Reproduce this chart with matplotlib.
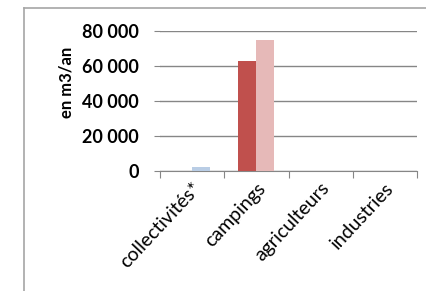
import matplotlib
matplotlib.use("Agg")
import matplotlib.pyplot as plt
from matplotlib.lines import Line2D
import numpy as np

# categories and values (m3 per year)
categories = ["collectivités*", "campings", "agriculteurs", "industries"]
serie_1 = [0, 63000, 0, 0]
serie_2 = [2500, 75000, 0, 0]
colors_1 = ["#C0504D", "#C0504D", "#C0504D", "#C0504D"]
colors_2 = ["#B9CDE5", "#E6B9B8", "#E6B9B8", "#E6B9B8"]
yticks = [0, 20000, 40000, 60000, 80000]

W, H = 427, 291
fig = plt.figure(figsize=(W / 100, H / 100), dpi=100)
fig.patch.set_facecolor("white")

# outer chart frame (only left and top visible in the crop)
fig.add_artist(Line2D([24 / W, 24 / W], [0, 1 - 8 / H], color="#A6A6A6", lw=1.2))
fig.add_artist(Line2D([24 / W, 1], [1 - 8 / H, 1 - 8 / H], color="#A6A6A6", lw=1.2))

ax = fig.add_axes([160 / W, 1 - 171 / H, (417 - 160) / W, (171 - 31) / H])

x = np.arange(len(categories))
width = 0.28
ax.bar(x - width / 2, serie_1, width, color=colors_1, zorder=3)
ax.bar(x + width / 2, serie_2, width, color=colors_2, zorder=3)

ax.set_xlim(-0.5, len(categories) - 0.5)
ax.set_ylim(0, 80000)
ax.set_yticks(yticks)
ax.set_yticklabels([f"{v:,}".replace(",", " ") for v in yticks],
                   fontfamily="Lato", fontweight="bold", fontsize=13)
ax.yaxis.grid(True, color="#868686", lw=1, zorder=0)

# category boundaries as ticks on the x axis
ax.set_xticks(np.arange(-0.5, len(categories)), minor=False)
ax.set_xticklabels([])
ax.set_xticks(x, minor=True)
ax.set_xticklabels(categories, minor=True, rotation=47, ha="right",
                   rotation_mode="anchor", fontfamily="Lato", fontsize=14)
ax.tick_params(axis="x", which="major", length=5, color="#868686")
ax.tick_params(axis="x", which="minor", length=0, pad=6)
ax.tick_params(axis="y", length=4, color="#868686", pad=11)

for side in ["top", "right", "left"]:
    ax.spines[side].set_visible(False)
ax.spines["bottom"].set_color("#868686")

fig.text(66 / W, 1 - 82 / H, "en m3/an", rotation=90, ha="center", va="center",
         fontfamily="Lato", fontweight="bold", fontsize=12)

fig.savefig("out.png", dpi=100)
